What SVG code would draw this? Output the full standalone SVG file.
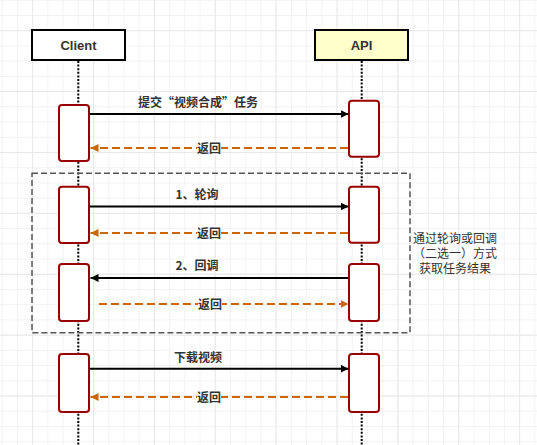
<svg xmlns="http://www.w3.org/2000/svg" width="537" height="445" viewBox="0 0 537 445">
<defs>
<pattern id="gmin" patternUnits="userSpaceOnUse" x="1.7" y="-0.2" width="15.22" height="15.22">
<path d="M0.5 0V15.22M0 0.5H15.22" stroke="#f2f2f2" stroke-width="1" fill="none"/>
</pattern>
<pattern id="gmaj" patternUnits="userSpaceOnUse" x="32.1" y="30.2" width="60.88" height="60.88">
<path d="M0.5 0V60.88M0 0.5H60.88" stroke="#e8e8e8" stroke-width="1" fill="none"/>
</pattern>
<marker id="ab" viewBox="0 0 10 10" refX="10" refY="5" markerWidth="8" markerHeight="8" orient="auto" markerUnits="userSpaceOnUse">
<path d="M0 0L10 5L0 10Z" fill="#000"/>
</marker>
<marker id="ao" viewBox="0 0 10 10" refX="10" refY="5" markerWidth="8" markerHeight="8" orient="auto" markerUnits="userSpaceOnUse">
<path d="M0 0L10 5L0 10Z" fill="#CC6600"/>
</marker>
</defs>
<style>
.hd{stroke:#000;stroke-width:2}
.ht{font-family:"Liberation Sans","Noto Sans CJK SC",sans-serif;font-size:13px;font-weight:bold;fill:#333;text-anchor:middle}
.life{stroke:#000;stroke-width:2;stroke-dasharray:2 1.6;fill:none}
.act{fill:#fff;stroke:#990000;stroke-width:2}
.msg{stroke:#000;stroke-width:2;fill:none;marker-end:url(#ab)}
.ret{stroke:#CC6600;stroke-width:2;stroke-dasharray:8 4;fill:none;marker-end:url(#ao)}
.lbl{font-family:"Noto Sans CJK SC","Liberation Sans",sans-serif;font-size:12px;fill:#333;text-anchor:middle;font-weight:bold}
.lb{fill:#fff}
.grp{fill:none;stroke:#555;stroke-width:1.5;stroke-dasharray:6 3}
.note{font-family:"Noto Sans CJK SC","Liberation Sans",sans-serif;font-size:12px;fill:#333;text-anchor:middle}
</style>
<rect width="537" height="445" fill="#fff"/>
<rect width="537" height="445" fill="url(#gmin)"/>
<rect width="537" height="445" fill="url(#gmaj)"/>

<g id="lifelines">
<line class="life" x1="78.3" y1="61" x2="78.3" y2="445"/>
<line class="life" x1="361.7" y1="61" x2="361.7" y2="445"/>
</g>

<g id="client">
<rect class="hd" x="32" y="30" width="93" height="30" fill="#fff"/>
<text class="ht" x="78.5" y="49.7">Client</text>
</g>
<g id="api">
<rect class="hd" x="315" y="30" width="93" height="30" fill="#FFFFCC"/>
<text class="ht" x="361.5" y="49.7">API</text>
</g>

<g id="group">
<rect class="grp" x="32" y="173.3" width="378" height="159.4"/>
</g>

<g id="activations">
<rect id="c1" class="act" x="59" y="105" width="30" height="56" rx="3"/>
<rect id="a1" class="act" x="349" y="100.7" width="30" height="56" rx="3"/>
<rect id="c2" class="act" x="59" y="186.7" width="30" height="56.3" rx="3"/>
<rect id="a2" class="act" x="349" y="186.7" width="30" height="56" rx="3"/>
<rect id="c3" class="act" x="59" y="264" width="30" height="57" rx="3"/>
<rect id="a3" class="act" x="349" y="264" width="30" height="57" rx="3"/>
<rect id="c4" class="act" x="59" y="354" width="30" height="58" rx="3"/>
<rect id="a4" class="act" x="349" y="354" width="30" height="58" rx="3"/>
</g>

<g id="connectors">
<line class="msg" x1="90" y1="114" x2="348.5" y2="114"/>
<line class="ret" x1="348" y1="148" x2="90.5" y2="148"/>
<line class="msg" x1="90" y1="206.5" x2="348.5" y2="206.5"/>
<line class="ret" x1="348" y1="233" x2="90.5" y2="233"/>
<line class="msg" x1="348" y1="278" x2="90.5" y2="278"/>
<line class="ret" x1="99" y1="304" x2="348.5" y2="304"/>
<line class="msg" x1="90" y1="368.7" x2="348.5" y2="368.7"/>
<line class="ret" x1="348" y1="397" x2="90.5" y2="397"/>

<rect class="lb" x="137" y="94" width="122" height="15"/>
<text class="lbl" x="198" y="106.5">提交“视频合成”任务</text>
<rect class="lb" x="197" y="141" width="24" height="14"/>
<text class="lbl" x="209" y="152.5">返回</text>
<rect class="lb" x="175" y="187" width="44" height="14"/>
<text class="lbl" x="197" y="198.5">1、轮询</text>
<rect class="lb" x="197" y="226" width="24" height="14"/>
<text class="lbl" x="209" y="237.5">返回</text>
<rect class="lb" x="175" y="258" width="44" height="14"/>
<text class="lbl" x="197" y="269.5">2、回调</text>
<rect class="lb" x="198" y="297" width="24" height="14"/>
<text class="lbl" x="210" y="308.5">返回</text>
<rect class="lb" x="173" y="350" width="50" height="14"/>
<text class="lbl" x="198" y="361.5">下载视频</text>
<rect class="lb" x="197" y="390" width="24" height="14"/>
<text class="lbl" x="209" y="401.5">返回</text>
</g>

<g id="note">
<text class="note" x="455" y="242.5">通过轮询或回调</text>
<text class="note" x="455" y="257.5">（二选一）方式</text>
<text class="note" x="455" y="272.5">获取任务结果</text>
</g>
</svg>
